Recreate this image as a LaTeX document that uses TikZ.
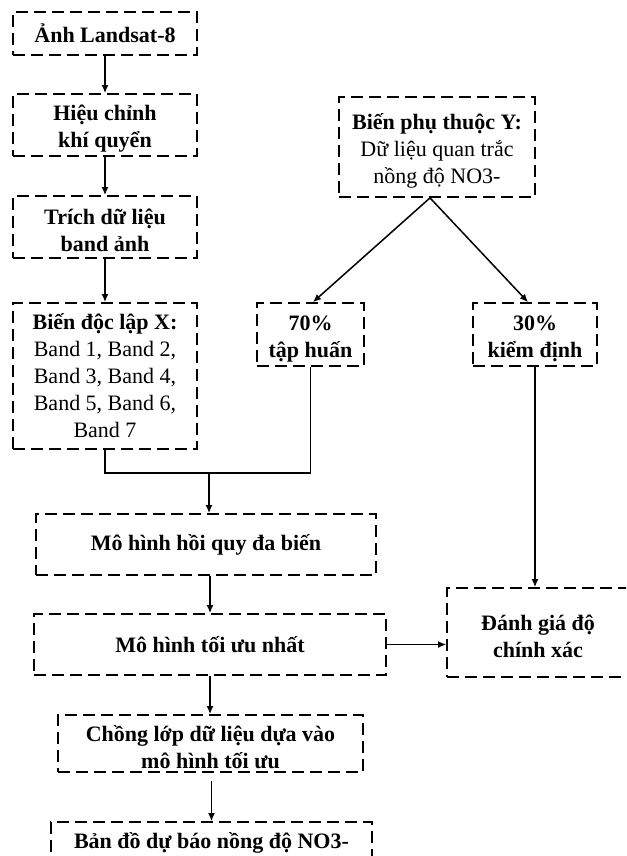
\documentclass[tikz,border=0pt]{standalone}
\usepackage{fontspec}
\setmainfont{Liberation Serif}
\usetikzlibrary{arrows.meta}
\newcommand{\lowerstrut}{\rule{0pt}{23pt}}
\begin{document}
\begin{tikzpicture}[x=1pt,y=-1pt,
  box/.style={draw=black, line width=1.8pt, dash pattern=on 12pt off 6pt, align=center, inner sep=0pt, font=\fontsize{22}{27}\selectfont\bfseries},
  arr/.style={line width=1.5pt, -{Latex[length=8pt,width=7pt]}},
  ln/.style={line width=1.5pt}]
\useasboundingbox (0,0) rectangle (626,856);
\clip (0,0) rectangle (626,856);
\fill[white] (0,0) rectangle (626,856);
\node[box, minimum width=184pt, minimum height=43pt] (n1) at (105,33.5) {Ảnh Landsat-8};
\node[box, minimum width=184pt, minimum height=62pt] (n2) at (105,125) {\lowerstrut Hiệu chỉnh\\khí quyển};
\node[box, minimum width=184pt, minimum height=62pt] (n3) at (105,227) {\lowerstrut Trích dữ liệu\\band ảnh};
\node[box, minimum width=184pt, minimum height=146pt] (nx) at (105,376) {Biến độc lập X:\\\mdseries Band 1, Band 2,\\\mdseries Band 3, Band 4,\\\mdseries Band 5, Band 6,\\\mdseries Band 7};
\node[box, minimum width=196pt, minimum height=100pt] (ny) at (437,147) {\lowerstrut Biến phụ thuộc Y:\\\mdseries Dữ liệu quan trắc\\\mdseries nồng độ NO3-};
\node[box, minimum width=107pt, minimum height=63pt] (t70) at (310.5,334.5) {\lowerstrut 70\%\\tập huấn};
\node[box, minimum width=124pt, minimum height=63pt] (t30) at (535,334.5) {\lowerstrut 30\%\\kiểm định};
\node[box, minimum width=340pt, minimum height=61pt] (hq) at (206,544.5) {Mô hình hồi quy đa biến};
\node[box, minimum width=352pt, minimum height=61pt] (tu) at (210,644.5) {Mô hình tối ưu nhất};
\node[box, minimum width=182pt, minimum height=89pt] (dg) at (538,632.5) {\lowerstrut Đánh giá độ\\chính xác};
\node[box, minimum width=305pt, minimum height=57pt] (cl) at (210.5,743.5) {\lowerstrut Chồng lớp dữ liệu dựa vào\\mô hình tối ưu};
\node[box, minimum width=321pt, minimum height=42pt] (bd) at (211.5,843) {Bản đồ dự báo nồng độ NO3-};
% connectors
\draw[arr] (n1.south) -- (n2.north);
\draw[arr] (n2.south) -- (n3.north);
\draw[arr] (n3.south) -- (nx.north);
\draw[arr] ([xshift=-7pt]ny.south) -- ([xshift=2.5pt]t70.north);
\draw[arr] ([xshift=-7pt]ny.south) -- ([xshift=-7pt]t30.north);
\coordinate (jm) at (209,473);
\draw[ln] (nx.south) |- (jm) -| (t70.south);
\draw[arr] (jm) -- (jm |- hq.north);
\draw[arr] (tu.north |- hq.south) -- (tu.north);
\draw[arr] (tu.east) -- (tu.east -| dg.west);
\draw[arr] (t30.south) -- (t30.south |- dg.north);
\draw[arr] (tu.south) -- (tu.south |- cl.north);
\draw[arr] ([yshift=-8pt]bd.north |- cl.south) -- (bd.north);
\end{tikzpicture}
\end{document}
